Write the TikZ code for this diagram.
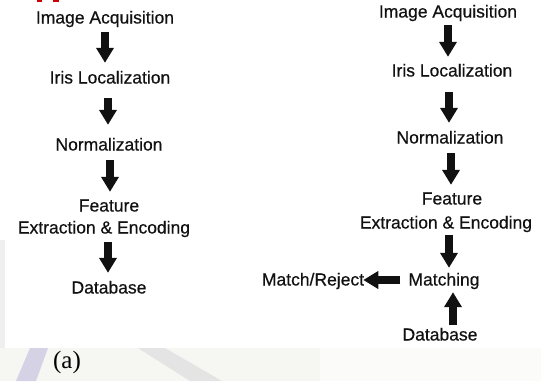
\documentclass[tikz,border=0pt]{standalone}
\usepackage{fontspec}
\setmainfont{Liberation Sans}[FakeBold=0.5]
\newfontfamily\capfont{Liberation Serif}
\usetikzlibrary{arrows.meta}
\definecolor{ink}{HTML}{111111}
\definecolor{lav}{HTML}{D6D2E6}
\definecolor{bandgray}{HTML}{F6F6F3}
\definecolor{streak}{HTML}{E4E4E4}
\tikzset{
  lbl/.style={inner sep=0pt, text height=12.5pt, text depth=3.5pt,
    font=\fontsize{17.5pt}{21pt}\selectfont, text=ink},
  blk/.style={draw=ink, line width=8pt,
    -{Triangle[length=15pt,width=17pt]}},
}
\begin{document}
\begin{tikzpicture}[x=1pt,y=-1pt]
\useasboundingbox (0,0) rectangle (541,381);
\fill[white] (0,0) rectangle (541,381);

% faint printed background at the foot of the page
\fill[bandgray] (0,348) rectangle (541,381);
\fill[streak!60] (0,240) rectangle (5,348);
\fill[lav] (30,348) -- (48,348) -- (36,381) -- (16,381) -- cycle;
\fill[streak] (138,348) -- (165,348) -- (222,381) -- (190,381) -- cycle;
\fill[white!60!bandgray] (320,348) rectangle (541,381);
% red marks cut off at the top edge
\fill[red!80!black] (37,0) rectangle (42,1.5);
\fill[red!80!black] (53,0) rectangle (59,1.5);

% ---- left chain: enrolment ----
\node[lbl] (l1) at (105,19) {Image Acquisition};
\node[lbl] (l2) at (110,79) {Iris Localization};
\node[lbl] (l3) at (109,146) {Normalization};
\node[lbl] (l4) at (109,207) {Feature};
\node[lbl] (l5) at (104,229) {Extraction \& Encoding};
\node[lbl] (l6) at (109,289) {Database};
\node[inner sep=0pt, text=black] (cap) at (67,362)
  {\capfont\fontsize{25pt}{29pt}\selectfont (a)};

\draw[blk] ([yshift=-5pt]l1.south) -- ([xshift=-5pt,yshift=8pt]l2.north);
\draw[blk] ([xshift=-2pt,yshift=-11pt]l2.south) -- ([xshift=-1pt,yshift=13pt]l3.north);
\draw[blk] ([xshift=1pt,yshift=-6pt]l3.south) -- ([xshift=1pt,yshift=7pt]l4.north);
\draw[blk] ([xshift=4pt,yshift=-5pt]l5.south) -- ([xshift=-1pt,yshift=8pt]l6.north);

% ---- right chain: verification ----
\node[lbl] (r1) at (448,13) {Image Acquisition};
\node[lbl] (r2) at (452,72) {Iris Localization};
\node[lbl] (r3) at (450,139) {Normalization};
\node[lbl] (r4) at (452,200) {Feature};
\node[lbl] (r5) at (446,224) {Extraction \& Encoding};
\node[lbl] (r6) at (444,281) {Matching};
\node[lbl] (mr) at (313,281) {Match/Reject};
\node[lbl] (r7) at (440,336) {Database};

\draw[blk] ([yshift=-4pt]r1.south) -- ([xshift=-4pt,yshift=7pt]r2.north);
\draw[blk] ([xshift=-3pt,yshift=-12pt]r2.south) -- ([xshift=-1pt,yshift=8pt]r3.north);
\draw[blk] ([xshift=1pt,yshift=-6pt]r3.south) -- ([xshift=-1pt,yshift=7pt]r4.north);
\draw[blk] ([xshift=3pt,yshift=-3pt]r5.south) -- ([xshift=5pt,yshift=5pt]r6.north);
\draw[blk] ([xshift=-8pt,yshift=1pt]r6.west) -- ([xshift=-1pt,yshift=1pt]mr.east);
\draw[blk] ([xshift=13pt,yshift=3pt]r7.north) -- ([xshift=9pt,yshift=-3pt]r6.south);
\end{tikzpicture}
\end{document}
